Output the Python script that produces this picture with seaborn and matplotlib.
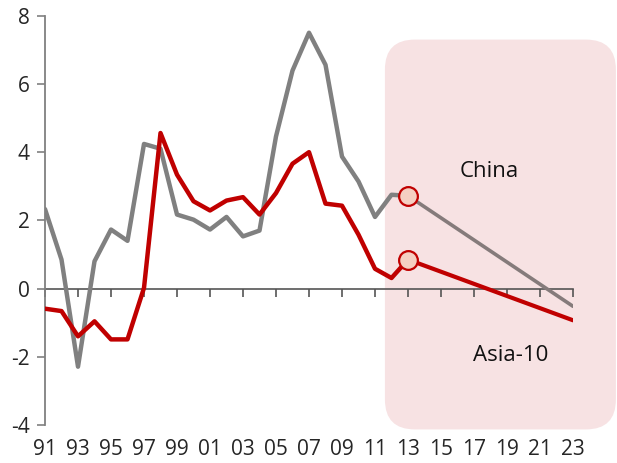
import matplotlib
matplotlib.use("Agg")
import matplotlib.pyplot as plt
from matplotlib.patches import FancyBboxPatch
import pandas as pd
import seaborn as sns

# Historical series (percent), 1991-2013
years = list(range(1991, 2014))
china = [2.33, 0.85, -2.29, 0.80, 1.73, 1.40, 4.24, 4.10, 2.17, 2.02, 1.73, 2.10,
         1.53, 1.70, 4.46, 6.39, 7.50, 6.56, 3.87, 3.14, 2.10, 2.75, 2.72]
asia10 = [-0.59, -0.66, -1.40, -0.96, -1.49, -1.49, 0.02, 4.56, 3.34, 2.56, 2.29, 2.58,
          2.68, 2.17, 2.80, 3.66, 4.00, 2.49, 2.43, 1.58, 0.58, 0.31, 0.85]

# Projection endpoints
proj_years = [2013, 2023]
china_proj = [2.72, -0.52]
asia10_proj = [0.85, -0.93]

xtick_years = list(range(1991, 2024, 2))
xtick_labels = [f"{y % 100:02d}" for y in xtick_years]
yticks = [-4, -2, 0, 2, 4, 6, 8]

sns.set_theme(style="white")
plt.rcParams["font.family"] = ["Open Sans", "DejaVu Sans"]

GREY = "#808080"
RED = "#c00000"
PROJ_GREY = "#857b7b"
SHADE = "#f7e2e3"

fig = plt.figure(figsize=(6.17, 4.63), dpi=100)
ax = fig.add_axes([45 / 617, 1 - 425 / 463, 528 / 617, (425 - 15.7) / 463])

hist = pd.DataFrame({"year": years, "China": china, "Asia-10": asia10})
proj = pd.DataFrame({"year": proj_years, "China": china_proj, "Asia-10": asia10_proj})

# Shaded projection period (rounded box), extends past the axes
x0, x1 = 2011.6, 2025.6
y0, y1 = -4.13, 7.3
px_per_x = 528 / 32
px_per_y = (425 - 15.7) / 12
box = FancyBboxPatch((x0, y0), x1 - x0, y1 - y0,
                     boxstyle="round,pad=0,rounding_size=%.3f" % (30 / px_per_x),
                     mutation_aspect=px_per_x / px_per_y,
                     facecolor=SHADE, edgecolor="none", zorder=0, clip_on=False)
ax.add_patch(box)

sns.lineplot(data=hist, x="year", y="China", ax=ax, color=GREY, linewidth=3.2, zorder=3)
sns.lineplot(data=hist, x="year", y="Asia-10", ax=ax, color=RED, linewidth=3.2, zorder=4)
sns.lineplot(data=proj, x="year", y="China", ax=ax, color=PROJ_GREY, linewidth=2.6, zorder=3)
sns.lineplot(data=proj, x="year", y="Asia-10", ax=ax, color=RED, linewidth=3.0, zorder=4)

# Markers at the start of the projection
ax.plot([proj_years[0]], [china_proj[0]], "o", ms=13.5, mfc="#f5cfc2", mec=RED, mew=1.6,
        zorder=6, clip_on=False)
ax.plot([proj_years[0]], [asia10_proj[0]], "o", ms=13.5, mfc="#f5cfc2", mec=RED, mew=1.6,
        zorder=6, clip_on=False)

ax.text(2017.95, 3.42, "China", fontsize=16, ha="center", va="center", color="#111111")
ax.text(2019.2, -1.97, "Asia-10", fontsize=16, ha="center", va="center", color="#111111")

ax.set_xlim(1991, 2023)
ax.set_ylim(-4, 8)
ax.set_xlabel("")
ax.set_ylabel("")
ax.set_yticks(yticks)
ax.set_yticklabels([str(v) for v in yticks], fontsize=15)
ax.set_xticks(xtick_years)
ax.set_xticklabels(xtick_labels, fontsize=15)
ax.tick_params(axis="x", length=0, pad=10)
ax.tick_params(axis="y", direction="out", length=6, width=1.2, color=GREY, left=True, pad=5)

for side in ["top", "right", "bottom"]:
    ax.spines[side].set_visible(False)
ax.spines["left"].set_color(GREY)
ax.spines["left"].set_linewidth(1.3)
ax.set_facecolor("none")

# Zero line with tick marks
zero_ax = ax.secondary_xaxis(4 / 12)
zero_ax.set_xticks(xtick_years)
zero_ax.set_xticklabels([])
zero_ax.tick_params(axis="x", direction="out", length=6, width=1.2, color="#555555")
zero_ax.spines["bottom"].set_color("#555555")
zero_ax.spines["bottom"].set_linewidth(1.2)
zero_ax.spines["bottom"].set_zorder(5)

fig.savefig("out.png", dpi=100)
